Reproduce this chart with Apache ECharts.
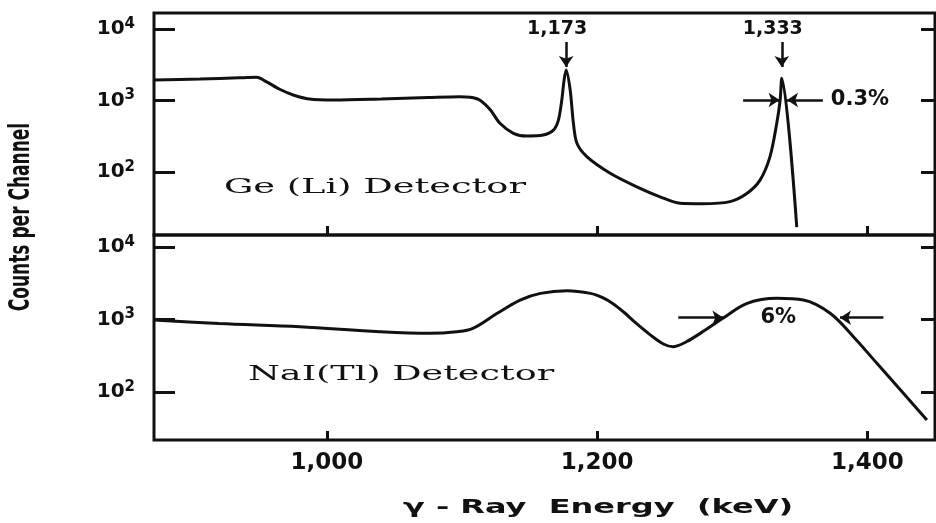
<!DOCTYPE html>
<html>
<head>
<meta charset="utf-8">
<script src="https://cdn.jsdelivr.net/npm/echarts@6/dist/echarts.min.js"></script>
<style>
  html, body { margin: 0; padding: 0; background: #fff; }
  #chart { width: 936px; height: 523px; }
</style>
</head>
<body>
<div id="chart"></div>
<script>
// Ge(Li) spectrum, upper panel (keV, counts per channel)
const geEnergy = [872, 906, 935, 948, 955, 965, 975, 987, 1005, 1040, 1075, 1098, 1106, 1113, 1121, 1128,
  1138, 1148, 1160, 1167.6, 1171.3, 1173.8, 1175.5, 1177, 1180, 1182.4, 1185, 1192.3, 1209.6, 1229.3,
  1246.5, 1261.3, 1278, 1298.3, 1310.7, 1320.5, 1327.9, 1332.9, 1335.4, 1336.6, 1347.7];
const geCounts = [1940, 2000, 2080, 2110, 1833, 1436, 1194, 1049, 1016, 1050, 1100, 1130, 1110, 1016, 736, 480,
  348, 319, 329, 386, 533, 1016, 1936, 2670, 1403, 480, 252, 164, 96, 62,
  45, 36.5, 36, 38.5, 50, 77, 164, 480, 1016, 2040, 17];

// NaI(Tl) spectrum, lower panel
const naiEnergy = [872, 920, 980, 1039, 1076, 1096, 1108, 1126, 1143, 1158, 1177.5, 1195, 1204, 1212, 1220,
  1227, 1240, 1249, 1256, 1266, 1280, 1293, 1311, 1333, 1352.6, 1372.4, 1389.6, 1407, 1426.6, 1444];
const naiCounts = [985, 880, 795, 680, 645, 680, 757, 1219, 1857, 2296, 2496, 2296, 2000, 1640, 1250,
  950, 600, 460, 422, 494, 716, 1040, 1671, 1958, 1857, 1219, 579, 249, 96, 41];

const energyTicks = [1000, 1200, 1400];
const countTicks = [100, 1000, 10000];

// gamma lines marked with arrows in the Ge(Li) panel
const peakLabels = ["1,173", "1,333"];
const peakEnergy = [1177, 1336.6];
const peakArrowFrom = 6580;
const peakArrowTo = 2945;

// resolution (FWHM) markers: arrows [from, to] at a given count level
const geWidthLevel = 1016;
const geWidthArrows = [[1308, 1335], [1367, 1340.5]];
const geWidthLabel = "0.3%";
const naiWidthLevel = 1059;
const naiWidthArrows = [[1260, 1293.4], [1411.8, 1379.7]];
const naiWidthLabel = "6%";
const naiWidthLabelAt = [1334, 1050];

const INK = "#111";
const SANS = "'DejaVu Sans', sans-serif";
const SERIF = "'DejaVu Serif', serif";

const chart = echarts.init(document.getElementById("chart"));

const zip = (xs, ys) => xs.map((x, i) => [x, ys[i]]);

const yLabel = {
  margin: 19,
  customValues: countTicks,
  formatter: (v) => "{b|10}{s|" + Math.round(Math.log10(v)) + "}",
  rich: {
    b: { fontFamily: SANS, fontWeight: "bold", fontSize: 20, color: INK },
    s: { fontFamily: SANS, fontWeight: "bold", fontSize: 15, color: INK, padding: [0, 0, 10, 0] },
  },
};

function countAxis(gridIndex, min, max, right) {
  return {
    type: "log",
    gridIndex,
    min,
    max,
    position: right ? "right" : "left",
    axisLine: { show: false },
    splitLine: { show: false },
    axisTick: {
      inside: true,
      length: right ? 14 : 21,
      customValues: countTicks,
      lineStyle: { color: INK, width: 3 },
    },
    axisLabel: right ? { show: false } : yLabel,
  };
}

function energyAxis(gridIndex, showLabels) {
  return {
    type: "value",
    gridIndex,
    min: 872,
    max: 1450,
    axisLine: { show: false },
    splitLine: { show: false },
    axisTick: {
      inside: true,
      length: 9,
      customValues: energyTicks,
      lineStyle: { color: INK, width: 3 },
    },
    axisLabel: {
      show: showLabels,
      customValues: energyTicks,
      margin: 12,
      fontFamily: SANS,
      fontWeight: "bold",
      fontSize: 23,
      color: INK,
      formatter: (v) => v.toLocaleString("en-US"),
    },
  };
}

function widthArrows(level, arrows, label) {
  return arrows.map((a, i) => [
    {
      coord: [a[0], level],
      label: label
        ? { show: i === 1, formatter: label, position: "start", distance: 8, fontSize: 21 }
        : { show: false },
    },
    { coord: [a[1], level] },
  ]);
}

const arrowStyle = { color: INK, width: 2.5, type: "solid" };
const labelStyle = { color: INK, fontFamily: SANS, fontWeight: "bold", fontSize: 19 };

chart.setOption({
  animation: false,
  backgroundColor: "#fff",
  grid: [
    { left: 154, right: 1, top: 13, height: 222, show: true, borderColor: INK, borderWidth: 3 },
    { left: 154, right: 1, top: 235, height: 205, show: true, borderColor: INK, borderWidth: 3 },
  ],
  xAxis: [energyAxis(0, false), energyAxis(1, true)],
  yAxis: [
    countAxis(0, 13.15, 16750, false),
    countAxis(0, 13.15, 16750, true),
    countAxis(1, 21.8, 14650, false),
    countAxis(1, 21.8, 14650, true),
  ],
  series: [
    {
      name: "Ge(Li)",
      type: "line",
      xAxisIndex: 0,
      yAxisIndex: 0,
      data: zip(geEnergy, geCounts),
      showSymbol: false,
      smooth: 0.3,
      lineStyle: { color: INK, width: 3 },
      markLine: {
        silent: true,
        symbol: ["none", "arrow"],
        symbolSize: 11,
        lineStyle: arrowStyle,
        label: labelStyle,
        data: peakEnergy
          .map((e, i) => [
            {
              coord: [e, peakArrowFrom],
              label: { show: true, formatter: peakLabels[i], position: "start", distance: 3, padding: [0, 18, 0, 0] },
            },
            { coord: [e, peakArrowTo] },
          ])
          .concat(widthArrows(geWidthLevel, geWidthArrows, geWidthLabel)),
      },
    },
    {
      name: "NaI(Tl)",
      type: "line",
      xAxisIndex: 1,
      yAxisIndex: 2,
      data: zip(naiEnergy, naiCounts),
      showSymbol: false,
      smooth: 0.35,
      lineStyle: { color: INK, width: 3 },
      markLine: {
        silent: true,
        symbol: ["none", "arrow"],
        symbolSize: 11,
        lineStyle: arrowStyle,
        label: { show: false },
        data: widthArrows(naiWidthLevel, naiWidthArrows, null),
      },
      markPoint: {
        silent: true,
        symbol: "circle",
        symbolSize: 1,
        itemStyle: { color: "transparent" },
        label: { show: true, position: "inside", formatter: naiWidthLabel, ...labelStyle, fontSize: 21 },
        data: [{ coord: naiWidthLabelAt }],
      },
    },
  ],
  graphic: [
    {
      type: "text",
      x: 22,
      y: 217,
      rotation: Math.PI / 2,
      scaleX: 0.86,
      scaleY: 1.3,
      style: {
        text: "Counts per Channel",
        fontFamily: "'Liberation Sans Narrow', 'DejaVu Sans Condensed', sans-serif",
        fontWeight: "bold",
        fontSize: 22,
        fill: INK,
        align: "center",
        verticalAlign: "middle",
      },
    },
    {
      type: "text",
      x: 598,
      y: 508,
      scaleX: 1.6,
      style: {
        text: "γ - Ray  Energy  (keV)",
        fontFamily: SANS,
        fontWeight: "bold",
        fontSize: 20,
        fill: INK,
        align: "center",
        verticalAlign: "middle",
      },
    },
    {
      type: "text",
      x: 375,
      y: 188,
      scaleX: 1.75,
      style: {
        text: "Ge (Li) Detector",
        fontFamily: SERIF,
        fontSize: 21,
        fill: INK,
        align: "center",
        verticalAlign: "middle",
      },
    },
    {
      type: "text",
      x: 401,
      y: 375,
      scaleX: 1.74,
      style: {
        text: "NaI(Tl) Detector",
        fontFamily: SERIF,
        fontSize: 21,
        fill: INK,
        align: "center",
        verticalAlign: "middle",
      },
    },
  ],
});
</script>
</body>
</html>
